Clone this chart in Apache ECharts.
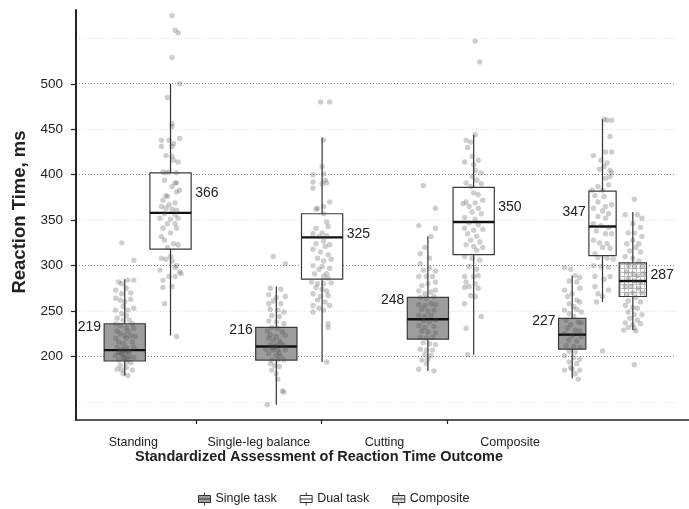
<!DOCTYPE html>
<html>
<head>
<meta charset="utf-8">
<script src="https://cdn.jsdelivr.net/npm/echarts@6/dist/echarts.min.js"></script>
<style>
  html, body { margin: 0; padding: 0; background: #fff; }
  #chart { width: 689px; height: 509px; }
</style>
</head>
<body>
<div id="chart"></div>
<script>
const categories = ['Standing', 'Single-leg balance', 'Cutting', 'Composite']
const yTickValues = [200, 250, 300, 350, 400, 450, 500]

// [category index, lower whisker, q1, median, q3, upper whisker, labelled value]
const singleBoxes = [
  [0, 179, 195, 207, 236, 285, 219],
  [1, 147, 196, 211, 232, 277, 216],
  [2, 184, 219, 241, 265, 332, 248],
  [3, 176, 208, 224, 242, 289, 227]
]
const dualBoxes = [
  [0, 223, 318, 358, 402, 500, 366],
  [1, 194, 285, 331, 357, 441, 325],
  [2, 202, 312, 348, 386, 444, 350],
  [3, 260, 311, 343, 382, 461, 347]
]
const compositeBoxes = [
  [3, 229, 266, 283, 303, 359, 287]
]

// individual subjects: [jitter (category units), ms]
const standingSingle = [[-0.02,325],[0.06,306],[-0.04,282],[0.02,284],[0.06,284],[-0.02,280],[-0.06,273],[0.01,275],[-0.02,269],[0.04,270],[-0.06,264],[-0.03,262],[0,260],[0.04,263],[-0.01,255],[-0.06,251],[0.02,251],[0.06,253],[-0.02,247],[0.01,245],[-0.05,242],[-0.01,240],[0.03,240],[-0.06,236],[-0.03,234],[0.05,236],[0.01,232],[-0.05,228],[0.02,228],[0.06,231],[-0.03,225],[0,223],[0.04,223],[-0.06,220],[0.01,220],[0.07,222],[-0.04,216],[-0.01,214],[0.05,216],[-0.05,210],[-0.02,208],[0.01,210],[0.06,210],[-0.03,205],[0,203],[0.03,205],[-0.06,201],[-0.01,199],[0.02,197],[0.06,199],[-0.04,196],[0.01,194],[0.04,193],[-0.05,186],[-0.02,185],[0.01,188],[0.05,185],[-0.01,181],[0.02,179],[-0.03,190],[-0.01,207],[0.02,206],[-0.04,204],[0.03,200],[0,198],[-0.02,202]]
const standingDual = [[0.01,575],[0.03,559],[0.05,556],[0.01,529],[0.06,500],[-0.02,485],[0.01,456],[0.01,453],[0.06,440],[-0.06,438],[-0.01,438],[0.02,434],[-0.06,431],[0.01,431],[-0.03,421],[0.01,420],[0.02,416],[0.05,414],[-0.05,403],[-0.01,403],[0.04,402],[-0.03,402],[-0.04,394],[0.03,391],[0.04,391],[0.01,387],[0.06,383],[0.04,381],[-0.03,377],[-0.02,376],[-0.05,372],[0.03,369],[-0.01,367],[-0.06,365],[-0.03,363],[0.01,362],[0.04,361],[-0.04,357],[0.03,356],[0.05,352],[-0.07,352],[0,351],[-0.02,346],[0.03,346],[-0.05,341],[0.04,341],[0,336],[-0.06,332],[-0.04,328],[0.02,324],[0.05,323],[-0.02,320],[0,310],[-0.06,308],[-0.03,307],[0.01,305],[0.04,300],[0.03,298],[-0.07,295],[0.06,293],[0.07,291],[-0.01,288],[0.03,288],[-0.05,284],[0.01,277],[-0.05,276],[-0.04,258],[0.04,222]]
const legSingle = [[-0.02,310],[0.06,302],[-0.04,275],[0.03,274],[-0.05,268],[0,265],[0.06,266],[-0.05,258],[-0.02,261],[0.03,258],[-0.04,252],[0.01,251],[0.05,249],[-0.03,245],[0.02,244],[-0.05,239],[0,238],[0.05,236],[-0.03,232],[0.01,231],[-0.06,228],[0.04,227],[-0.04,224],[0,222],[0.06,223],[-0.05,220],[-0.02,218],[0.02,217],[-0.04,213],[0,212],[0.05,212],[-0.07,208],[-0.02,207],[0.01,207],[0.06,207],[-0.05,203],[0,201],[0.03,200],[-0.03,196],[0.01,196],[0.05,196],[-0.04,192],[-0.01,190],[0.02,189],[-0.03,185],[0,181],[0.01,175],[0.04,162],[0.05,161],[-0.06,147],[-0.01,211],[0.03,214],[-0.03,209],[0.02,204]]
const legDual = [[-0.01,480],[0.05,480],[0.01,438],[0,409],[-0.06,400],[0.01,401],[-0.06,392],[0.02,394],[0,390],[0.03,391],[-0.06,385],[-0.03,363],[0.01,365],[-0.04,362],[0.05,370],[0.01,357],[0.03,348],[-0.04,341],[0.04,343],[0,336],[-0.06,335],[-0.02,332],[0.03,333],[0.01,327],[-0.04,324],[0.02,321],[0.05,323],[-0.06,318],[-0.01,315],[0.04,312],[-0.03,308],[0.01,305],[0.06,307],[-0.06,300],[0,299],[-0.02,296],[0.05,297],[-0.05,291],[0.03,291],[0.01,288],[0.04,286],[-0.07,282],[-0.03,280],[0.01,280],[0.06,281],[-0.04,276],[0,274],[0.03,272],[-0.06,269],[-0.01,266],[0.04,267],[-0.03,262],[0.02,260],[-0.06,256],[0.05,256],[-0.02,253],[0.01,251],[-0.06,249],[0.04,236],[0.04,232],[0.03,194]]
const cuttingSingle = [[-0.03,388],[0.05,363],[-0.06,344],[0.05,341],[0.02,332],[-0.02,320],[-0.05,313],[0.01,308],[-0.05,302],[0.01,297],[-0.03,295],[0.05,294],[-0.06,288],[-0.01,288],[0.03,288],[-0.04,278],[0,280],[0.05,282],[-0.06,272],[-0.02,269],[0.02,271],[0.05,273],[-0.05,265],[-0.01,264],[0.04,266],[-0.06,257],[-0.02,256],[0.02,258],[0.05,257],[-0.04,252],[0,250],[0.04,251],[-0.06,245],[-0.02,244],[0.02,245],[-0.03,239],[0.01,238],[0.05,240],[-0.06,234],[-0.02,232],[0.04,233],[-0.04,228],[0,227],[0.05,226],[-0.05,221],[-0.01,220],[0.03,221],[-0.03,215],[0.01,214],[0.05,213],[-0.05,208],[-0.01,207],[0.03,207],[-0.02,202],[0.02,201],[-0.04,196],[0,197],[-0.06,186],[0.04,184],[-0.01,192]]
const cuttingDual = [[0.01,547],[0.04,524],[0.01,444],[-0.05,438],[-0.02,436],[-0.04,430],[-0.01,420],[0.03,416],[-0.06,414],[0,411],[0.01,405],[0.05,402],[-0.01,398],[0.02,394],[-0.05,391],[0.05,390],[-0.02,387],[0,380],[0.03,378],[0.06,372],[-0.05,370],[0.01,369],[-0.07,368],[-0.03,365],[0.03,363],[-0.01,359],[0.05,357],[-0.06,353],[0.01,351],[-0.03,347],[0.03,345],[-0.06,341],[0.06,340],[0,339],[-0.04,335],[0.02,332],[-0.02,328],[0.04,326],[-0.05,323],[0,321],[0.06,320],[0.02,317],[-0.06,310],[-0.01,308],[0.04,306],[-0.03,299],[0.02,296],[0.03,289],[-0.06,288],[0,288],[-0.05,282],[0.01,280],[-0.03,277],[-0.06,276],[0.03,275],[-0.02,267],[0.01,266],[-0.06,258],[0.05,244],[-0.05,231],[-0.04,202]]
const compositeSingle = [[-0.05,298],[-0.01,296],[0.02,289],[0.05,287],[-0.02,283],[0.03,282],[-0.05,273],[0,269],[0.05,275],[-0.03,266],[0.03,262],[-0.02,258],[0.05,260],[0.01,255],[-0.05,251],[0.03,252],[-0.02,247],[0.06,249],[0.01,244],[-0.04,240],[0.04,238],[-0.01,235],[0.06,237],[-0.03,231],[0.02,229],[0.05,228],[-0.05,225],[0,223],[0.06,222],[-0.02,218],[0.03,217],[-0.04,212],[0.01,211],[0.05,210],[-0.02,206],[0.02,205],[-0.05,201],[0.01,199],[0.05,197],[-0.02,194],[0.03,192],[0,186],[0.05,185],[-0.05,185],[0.02,181],[0.04,175],[-0.01,188]]
const compositeDual = [[0.01,461],[0.03,460],[0.06,460],[0.05,442],[-0.06,421],[0.02,425],[0.06,425],[-0.01,416],[0.03,413],[0.01,409],[0.05,405],[-0.02,406],[0.06,402],[0.02,396],[0.05,398],[-0.03,387],[0.04,389],[0,383],[-0.07,383],[-0.05,377],[0.01,376],[-0.03,370],[0.02,365],[-0.06,363],[0.06,367],[0,360],[0.04,357],[-0.03,354],[0.02,352],[-0.06,346],[-0.01,344],[0.04,342],[-0.04,338],[0.02,335],[0.06,335],[-0.06,328],[-0.02,325],[0.03,324],[0,320],[0.05,319],[-0.05,313],[-0.03,309],[0.03,308],[0.07,307],[-0.06,300],[-0.01,299],[0.04,298],[-0.05,288],[0.01,285],[0.05,288],[-0.05,277],[0.04,273],[-0.03,269],[0,266],[-0.04,260],[0,206]]
const compositeComposite = [[0.01,373],[-0.05,356],[0.03,356],[0.06,352],[0,346],[0.05,342],[-0.03,336],[0.01,336],[0.06,332],[0,328],[0.04,324],[-0.04,324],[0.02,320],[-0.02,316],[0.05,315],[-0.05,310],[0,308],[0.04,305],[-0.03,300],[0.01,299],[0.06,299],[-0.04,293],[0,291],[0.03,289],[0.07,291],[-0.03,286],[0.01,283],[0.05,282],[-0.05,277],[-0.01,277],[0.04,275],[0,270],[-0.04,268],[0.06,270],[0.02,265],[-0.03,261],[0.05,260],[-0.05,256],[0,254],[0.03,253],[-0.03,249],[0.01,246],[0.06,246],[-0.02,242],[0.03,240],[-0.05,237],[0,235],[0.05,236],[-0.03,232],[0.01,231],[-0.06,229],[0.02,228],[0.01,191]]

const singlePoints = [standingSingle, legSingle, cuttingSingle, compositeSingle]
const dualPoints = [standingDual, legDual, cuttingDual, compositeDual]
const compositePoints = [null, null, null, compositeComposite]

const FONT = '"Liberation Sans", Arial, Helvetica, sans-serif'
const INK = '#222'

// dodge layout inside a category (category units)
function slot(cat, kind) {
  if (cat === 3) {
    return { offset: { single: -0.2, dual: 0, composite: 0.2 }[kind], width: 0.18 }
  }
  return { offset: { single: -0.152, dual: 0.15 }[kind], width: 0.272 }
}

// where the value label sits next to each box
function labelSpot(cat, kind) {
  if (kind === 'single') return { side: 'left', dy: 3 }
  if (kind === 'dual') return cat === 3 ? { side: 'left', dy: 21 } : { side: 'right', dy: 20 }
  return { side: 'right', dy: 12 }
}

const hatch = document.createElement('canvas')
hatch.width = 4
hatch.height = 4
const hctx = hatch.getContext('2d')
hctx.fillStyle = '#ffffff'
hctx.fillRect(0, 0, 4, 4)
hctx.fillStyle = '#c2c2c2'
hctx.fillRect(0, 0, 4, 1)
hctx.fillRect(0, 0, 1, 4)
const hatchFill = { image: hatch, repeat: 'repeat' }

const fills = { single: '#9d9d9d', dual: '#ffffff', composite: hatchFill }

function boxRenderer(kind) {
  return function (params, api) {
    const cat = api.value(0)
    const s = slot(cat, kind)
    const x = cat + s.offset
    const half = api.size([s.width, 0])[0] / 2
    const low = api.coord([x, api.value(1)])
    const q1 = api.coord([x, api.value(2)])
    const med = api.coord([x, api.value(3)])
    const q3 = api.coord([x, api.value(4)])
    const high = api.coord([x, api.value(5)])
    const lab = labelSpot(cat, kind)
    return {
      type: 'group',
      children: [
        { type: 'line', shape: { x1: low[0], y1: low[1], x2: high[0], y2: high[1] },
          style: { stroke: '#333', lineWidth: 1.2 } },
        { type: 'rect', shape: { x: q3[0] - half, y: q3[1], width: half * 2, height: q1[1] - q3[1] },
          style: { fill: fills[kind], stroke: '#3a3a3a', lineWidth: 1.2 } },
        { type: 'line', shape: { x1: med[0] - half, y1: med[1], x2: med[0] + half, y2: med[1] },
          style: { stroke: '#111', lineWidth: 2.4 } },
        { type: 'text', z2: 10,
          x: lab.side === 'left' ? q3[0] - half - 3 : q3[0] + half + 4,
          y: q3[1] + lab.dy,
          style: { text: String(api.value(6)), fill: INK, font: '14px ' + FONT,
                   align: lab.side === 'left' ? 'right' : 'left', verticalAlign: 'middle' } }
      ]
    }
  }
}

function pointData(groups, kind) {
  const out = []
  groups.forEach((pts, cat) => {
    if (!pts) return
    const s = slot(cat, kind)
    pts.forEach(p => out.push([cat + s.offset + p[0], p[1]]))
  })
  return out
}

function pointSeries(groups, kind) {
  return {
    type: 'scatter', xAxisIndex: 2, yAxisIndex: 2, z: 4, silent: true,
    symbolSize: 5.4,
    itemStyle: { color: 'rgba(70,70,70,0.33)' },
    data: pointData(groups, kind)
  }
}

const boxIcon = 'path://M6,0V3M0,3H12V10H0ZM0,6.5H12M6,10V13'

const hidden = { show: false }

const chart = echarts.init(document.getElementById('chart'))
chart.setOption({
  animation: false,
  grid: [
    { left: 70.5, width: 628, top: 10, height: 410, outerBoundsMode: 'none' },    // category labels
    { left: 76, width: 600, top: 38.3, height: 363.6, outerBoundsMode: 'none' },  // grid lines 150..550
    { left: 72, width: 606.3, top: 10, height: 410, outerBoundsMode: 'none' },    // data
    { left: 76, right: 0, top: 10, height: 410, outerBoundsMode: 'none' },        // axis lines
    { left: 76, width: 600, top: 83.8, height: 272.7, outerBoundsMode: 'none' }   // y labels 200..500
  ],
  xAxis: [
    {
      gridIndex: 0, type: 'category', data: categories.concat(['']),
      axisLine: { show: false },
      axisTick: { show: true, length: 4, interval: (i) => i >= 1 && i <= 3,
                  lineStyle: { color: INK, width: 1.2 } },
      axisLabel: { interval: 0, margin: 16, color: INK, fontSize: 12.5, fontFamily: FONT },
      splitLine: hidden
    },
    { gridIndex: 1, type: 'value', show: false },
    { gridIndex: 2, type: 'value', min: -0.5, max: 3.5, show: false },
    {
      gridIndex: 3, type: 'value', min: 0, max: 1,
      axisLine: { show: true, onZero: false, lineStyle: { color: INK, width: 1.5 } },
      axisTick: hidden, axisLabel: hidden, splitLine: hidden
    },
    { gridIndex: 4, type: 'value', show: false }
  ],
  yAxis: [
    { gridIndex: 0, type: 'value', show: false },
    {
      gridIndex: 1, type: 'value', min: 150, max: 550, interval: 50,
      axisLine: hidden, axisTick: hidden, axisLabel: hidden,
      splitLine: { show: true, lineStyle: { color: ['#dcdcdc', '#8c8c8c'], width: 1, type: [1, 2] } }
    },
    { gridIndex: 2, type: 'value', min: 130.1, max: 581.2, show: false },
    {
      gridIndex: 3, type: 'value', min: 0, max: 1,
      axisLine: { show: true, onZero: false, lineStyle: { color: INK, width: 2 } },
      axisTick: hidden, axisLabel: hidden, splitLine: hidden
    },
    {
      gridIndex: 4, type: 'value', min: yTickValues[0], max: yTickValues[yTickValues.length - 1], interval: 50,
      axisLine: hidden, splitLine: hidden,
      axisTick: { show: true, length: 5, lineStyle: { color: INK, width: 1.2 } },
      axisLabel: { margin: 13, color: INK, fontSize: 13.5, fontFamily: FONT }
    }
  ],
  legend: {
    left: 193, top: 487, itemWidth: 12, itemHeight: 13, itemGap: 23, selectedMode: false,
    textStyle: { color: INK, fontSize: 12.5, fontFamily: FONT },
    data: [
      { name: 'Single task', icon: boxIcon, itemStyle: { color: '#9d9d9d', borderColor: '#333', borderWidth: 1 } },
      { name: 'Dual task', icon: boxIcon, itemStyle: { color: '#ffffff', borderColor: '#333', borderWidth: 1 } },
      { name: 'Composite', icon: boxIcon, itemStyle: { color: hatchFill, borderColor: '#333', borderWidth: 1 } }
    ]
  },
  graphic: [
    { type: 'text', x: 20, y: 212, rotation: Math.PI / 2,
      style: { text: 'Reaction Time, ms', font: 'bold 18.5px ' + FONT, fill: INK,
               align: 'center', verticalAlign: 'middle' } },
    { type: 'text', x: 319, y: 457,
      style: { text: 'Standardized Assessment of Reaction Time Outcome', font: 'bold 14.5px ' + FONT,
               fill: INK, align: 'center', verticalAlign: 'middle' } }
  ],
  series: [
    { name: 'Single task', type: 'custom', xAxisIndex: 2, yAxisIndex: 2, z: 2,
      itemStyle: { color: '#9d9d9d' }, renderItem: boxRenderer('single'),
      encode: { x: 0, y: [1, 2, 3, 4, 5] }, data: singleBoxes },
    { name: 'Dual task', type: 'custom', xAxisIndex: 2, yAxisIndex: 2, z: 2,
      itemStyle: { color: '#ffffff' }, renderItem: boxRenderer('dual'),
      encode: { x: 0, y: [1, 2, 3, 4, 5] }, data: dualBoxes },
    { name: 'Composite', type: 'custom', xAxisIndex: 2, yAxisIndex: 2, z: 2,
      itemStyle: { color: '#dddddd' }, renderItem: boxRenderer('composite'),
      encode: { x: 0, y: [1, 2, 3, 4, 5] }, data: compositeBoxes },
    pointSeries(singlePoints, 'single'),
    pointSeries(dualPoints, 'dual'),
    pointSeries(compositePoints, 'composite')
  ]
})
</script>
</body>
</html>
